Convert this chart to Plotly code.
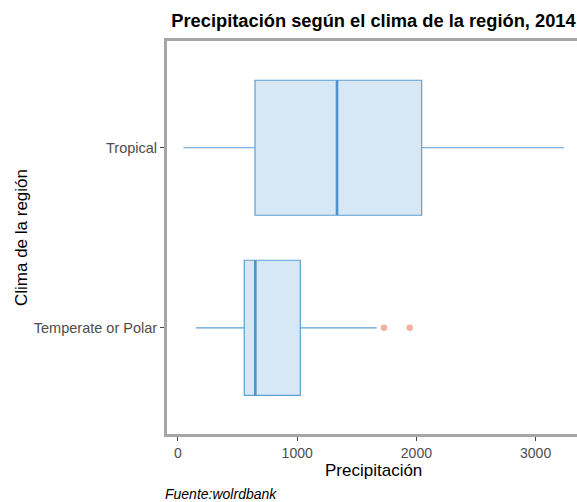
import plotly.graph_objects as go

categories = ["Temperate or Polar", "Tropical"]
positions = [1, 2]
q1 = [556, 646]
median = [649, 1334]
q3 = [1026, 2044]
lower_fence = [151, 45]
upper_fence = [1667, 3238]
outlier_cat = [1, 1]
outlier_vals = [1728, 1944]
x_ticks = [0, 1000, 2000, 3000]

line_col = "#5C9FD3"
fill_col = "#D6E8F6"
box_w = 0.75

W, H = 577, 502
L, T, B = 167, 41, 68
PW, PH = W - L, H - T - B

fig = go.Figure()
for i, pos in enumerate(positions):
    fig.add_trace(go.Box(
        orientation="h", y=[pos], q1=[q1[i]], median=[median[i]], q3=[q3[i]],
        lowerfence=[lower_fence[i]], upperfence=[upper_fence[i]],
        width=box_w, whiskerwidth=0, boxpoints=False,
        fillcolor=fill_col, line=dict(color=line_col, width=1.2),
        showlegend=False, hoverinfo="skip"))
    fig.add_trace(go.Scatter(
        x=[median[i], median[i]], y=[pos - box_w / 2, pos + box_w / 2],
        mode="lines", line=dict(color="#4E93CB", width=2.6),
        showlegend=False, hoverinfo="skip"))

fig.add_trace(go.Scatter(
    x=outlier_vals, y=outlier_cat, mode="markers",
    marker=dict(color="#F5AFA5", size=6.5, line=dict(width=0)),
    showlegend=False, hoverinfo="skip"))

fig.update_layout(
    width=W, height=H,
    margin=dict(l=L, r=0, t=T, b=B, pad=0),
    paper_bgcolor="white", plot_bgcolor="white",
    font=dict(family="Liberation Sans, Arial, sans-serif", color="#000000"),
    title=dict(text="<b>Precipitación según el clima de la región, 2014</b>",
               font=dict(size=18.3, color="#000000"),
               x=373.5 / W, xref="container", xanchor="center",
               y=1 - 21 / H, yref="container", yanchor="middle"),
    xaxis=dict(range=[-92, 3347], tickvals=x_ticks, ticktext=[str(v) for v in x_ticks],
               showgrid=False, zeroline=False,
               showline=True, linecolor="#A6A6A6", linewidth=3, mirror=True,
               ticks="outside", ticklen=4, tickcolor="#444444", tickwidth=1,
               tickfont=dict(size=14, color="#4D4D4D")),
    yaxis=dict(range=[0.41, 2.593], tickvals=positions, ticktext=categories,
               showgrid=False, zeroline=False,
               showline=True, linecolor="#A6A6A6", linewidth=3, mirror=False,
               ticks="outside", ticklen=4, tickcolor="#444444", tickwidth=1,
               tickfont=dict(size=14.5, color="#4D4D4D")),
    annotations=[
        dict(text="Precipitación", xref="paper", yref="paper",
             x=(373 - L) / PW, y=(T + PH - 471) / PH,
             xanchor="center", yanchor="middle", showarrow=False,
             font=dict(size=17, color="#000000")),
        dict(text="Clima de la región", xref="paper", yref="paper",
             x=(21 - L) / PW, y=(T + PH - 238) / PH, textangle=-90,
             xanchor="center", yanchor="middle", showarrow=False,
             font=dict(size=17, color="#000000")),
        dict(text="<i>Fuente:wolrdbank</i>", xref="paper", yref="paper",
             x=(163 - L) / PW, y=(T + PH - 494) / PH,
             xanchor="left", yanchor="middle", showarrow=False,
             font=dict(size=14, color="#000000")),
    ],
)

fig.write_html(
    "out.html",
    config={"displayModeBar": False},
    post_script="document.body.style.margin='0';document.body.style.overflow='hidden';"
                "document.documentElement.style.overflow='hidden';",
)
